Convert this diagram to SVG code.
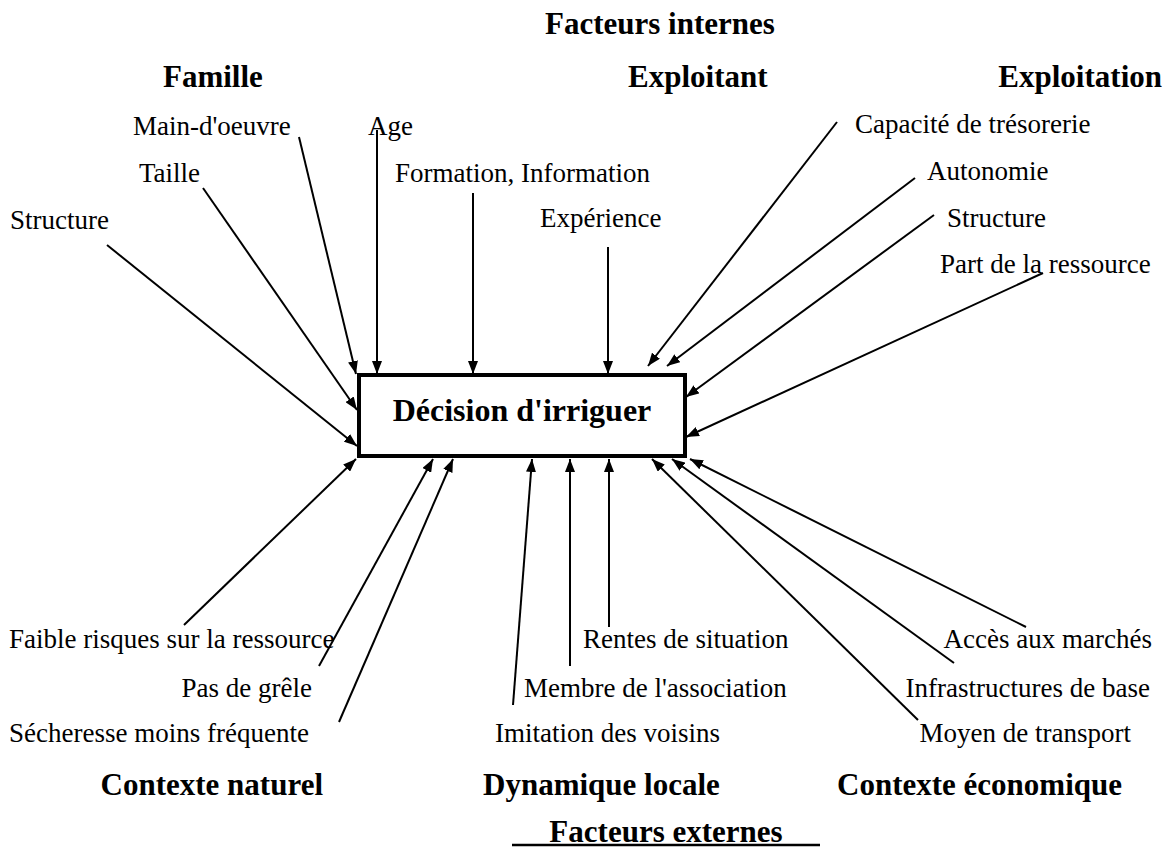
<svg xmlns="http://www.w3.org/2000/svg" width="1164" height="853" viewBox="0 0 1164 853">
  <style>
    text { font-family: "Liberation Serif", "Times New Roman", serif; fill: #000; }
    .lbl { font-size: 27px; }
    .hd { font-size: 31px; font-weight: bold; }
    .main { font-size: 32px; font-weight: bold; }
    .conn line { stroke: #000; stroke-width: 2; marker-end: url(#arr); }
  </style>
  <defs>
    <marker id="arr" markerUnits="userSpaceOnUse" markerWidth="14" markerHeight="10" refX="13" refY="5" orient="auto">
      <path d="M0,0 L13,5 L0,10 z" fill="#000"/>
    </marker>
  </defs>
  <rect width="1164" height="853" fill="#fff"/>

  <g id="headings">
    <text id="h-internes" class="hd" x="545" y="34">Facteurs internes</text>
    <text id="h-famille" class="hd" x="163" y="87">Famille</text>
    <text id="h-exploitant" class="hd" x="628" y="87">Exploitant</text>
    <text id="h-exploitation" class="hd" x="1162" y="87" text-anchor="end">Exploitation</text>
    <text id="h-naturel" class="hd" x="323" y="795" text-anchor="end">Contexte naturel</text>
    <text id="h-dynamique" class="hd" x="483" y="795">Dynamique locale</text>
    <text id="h-economique" class="hd" x="837" y="795">Contexte économique</text>
    <g id="h-externes">
      <text class="hd" x="666" y="842" text-anchor="middle">Facteurs externes</text>
      <line x1="512" y1="845" x2="820" y2="845" stroke="#000" stroke-width="2.5"/>
    </g>
  </g>

  <g id="decision">
    <rect x="359" y="375" width="326" height="81" fill="#fff" stroke="#000" stroke-width="4"/>
    <text class="main" x="522" y="421" text-anchor="middle">Décision d'irriguer</text>
  </g>

  <g id="n-main-oeuvre"><text class="lbl" x="133" y="135">Main-d'oeuvre</text></g>
  <g id="n-age"><text class="lbl" x="368" y="135">Age</text></g>
  <g id="n-taille"><text class="lbl" x="139" y="182">Taille</text></g>
  <g id="n-formation"><text class="lbl" x="395" y="182">Formation, Information</text></g>
  <g id="n-structure-fam"><text class="lbl" x="10" y="229">Structure</text></g>
  <g id="n-experience"><text class="lbl" x="540" y="227">Expérience</text></g>
  <g id="n-capacite"><text class="lbl" x="855" y="133">Capacité de trésorerie</text></g>
  <g id="n-autonomie"><text class="lbl" x="927" y="180">Autonomie</text></g>
  <g id="n-structure-exp"><text class="lbl" x="947" y="227">Structure</text></g>
  <g id="n-part"><text class="lbl" x="940" y="273">Part de la ressource</text></g>

  <g id="n-faible"><text class="lbl" x="9" y="648">Faible risques sur la ressource</text></g>
  <g id="n-grele"><text class="lbl" x="312" y="697" text-anchor="end">Pas de grêle</text></g>
  <g id="n-secheresse"><text class="lbl" x="9" y="742">Sécheresse moins fréquente</text></g>
  <g id="n-rentes"><text class="lbl" x="583" y="648">Rentes de situation</text></g>
  <g id="n-membre"><text class="lbl" x="524" y="697">Membre de l'association</text></g>
  <g id="n-imitation"><text class="lbl" x="495" y="742">Imitation des voisins</text></g>
  <g id="n-acces"><text class="lbl" x="1152" y="648" text-anchor="end">Accès aux marchés</text></g>
  <g id="n-infra"><text class="lbl" x="1150" y="697" text-anchor="end">Infrastructures de base</text></g>
  <g id="n-moyen"><text class="lbl" x="1131" y="742" text-anchor="end">Moyen de transport</text></g>

  <g id="connectors" class="conn">
    <line x1="107" y1="245" x2="357" y2="446"/>
    <line x1="203" y1="188" x2="357" y2="410"/>
    <line x1="299" y1="137" x2="356" y2="374"/>
    <line x1="377" y1="130" x2="377" y2="374"/>
    <line x1="473" y1="193" x2="473" y2="374"/>
    <line x1="608" y1="247" x2="608" y2="374"/>
    <line x1="837" y1="122" x2="648" y2="366"/>
    <line x1="915" y1="178" x2="667" y2="366"/>
    <line x1="934" y1="215" x2="686" y2="397"/>
    <line x1="1043" y1="273" x2="686" y2="437"/>
    <line x1="184" y1="625" x2="356" y2="459"/>
    <line x1="319" y1="666" x2="433" y2="459"/>
    <line x1="339" y1="722" x2="453" y2="459"/>
    <line x1="513" y1="705" x2="532" y2="459"/>
    <line x1="570" y1="666" x2="570" y2="459"/>
    <line x1="609" y1="627" x2="609" y2="459"/>
    <line x1="918" y1="720" x2="652" y2="459"/>
    <line x1="954" y1="663" x2="672" y2="459"/>
    <line x1="1026" y1="627" x2="690" y2="459"/>
  </g>
</svg>
